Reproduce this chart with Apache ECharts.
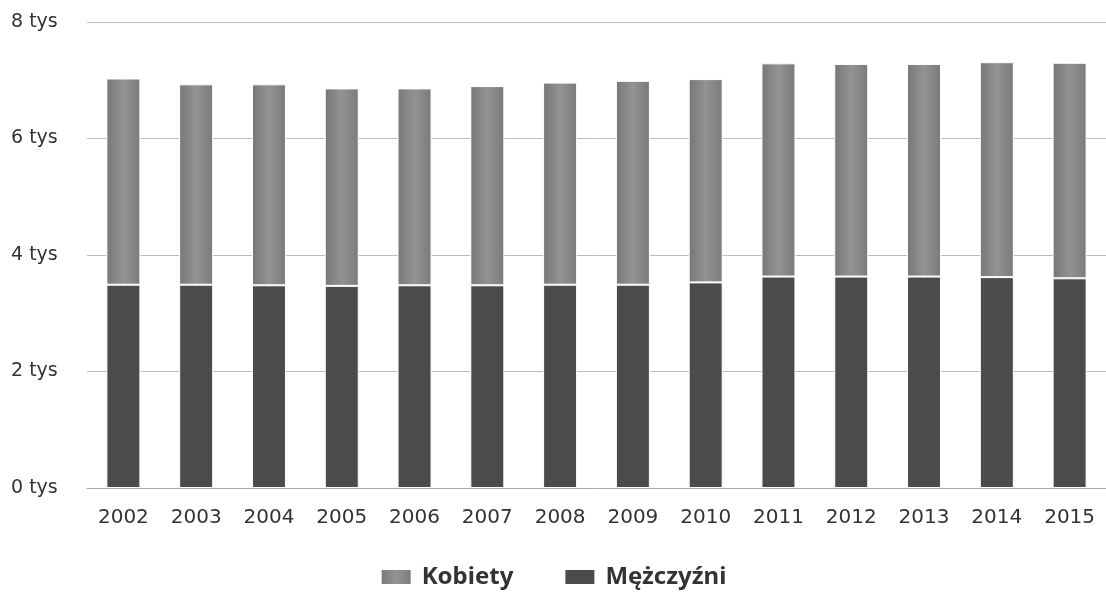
<!DOCTYPE html>
<html><head><meta charset="utf-8">
<script src="https://cdn.jsdelivr.net/npm/echarts@6/dist/echarts.min.js"></script>
<style>html,body{margin:0;padding:0;background:#fff}#c{width:1106px;height:592px}</style>
</head><body><div id="c"></div>
<script>
const years = ['2002','2003','2004','2005','2006','2007','2008','2009','2010','2011','2012','2013','2014','2015'];
const kobiety = [3540,3440,3450,3390,3380,3420,3470,3500,3490,3660,3650,3650,3690,3700];
const mezczyzni = [3490,3490,3480,3470,3480,3480,3490,3490,3530,3630,3630,3630,3620,3600];
const yTicks = [0,2000,4000,6000,8000];

const chart = echarts.init(document.getElementById('c'));
chart.setOption({
  animation:false,
  textStyle:{fontFamily:'DejaVu Sans'},
  grid:{left:87,right:-9,top:22,bottom:104},
  legend:{
    top:560,left:'center',itemWidth:31,itemHeight:16,itemGap:50,
    icon:'rect',
    textStyle:{fontSize:24,fontWeight:'bold',color:'#333',fontFamily:'Noto Sans',padding:[0,0,0,5]},
    data:['Kobiety','Mężczyźni']
  },
  xAxis:{type:'category',data:years,
    axisLine:{lineStyle:{color:'#aaa'}},
    axisTick:{length:16,lineStyle:{color:'#aaa'}},
    axisLabel:{fontSize:20,color:'#333',margin:20}},
  yAxis:{type:'value',min:yTicks[0],max:yTicks[yTicks.length-1],interval:2000,
    axisLine:{show:false},axisTick:{show:false},
    splitLine:{lineStyle:{color:'#bbb'}},
    axisLabel:{fontSize:19,color:'#333',align:'left',margin:76,
      formatter:v=>(v/1000)+' tys'}},
  series:[
    {name:'Mężczyźni',type:'bar',stack:'a',data:mezczyzni,barWidth:34,
     itemStyle:{color:'#4b4b4b',borderColor:'#fff',borderWidth:1}},
    {name:'Kobiety',type:'bar',stack:'a',data:kobiety,barWidth:34,
     itemStyle:{color:new echarts.graphic.LinearGradient(0,0,1,0,[{offset:0,color:'#777'},{offset:0.5,color:'#939393'},{offset:1,color:'#7a7a7a'}]),
       borderColor:'#fff',borderWidth:1}}
  ]
});
</script></body></html>
